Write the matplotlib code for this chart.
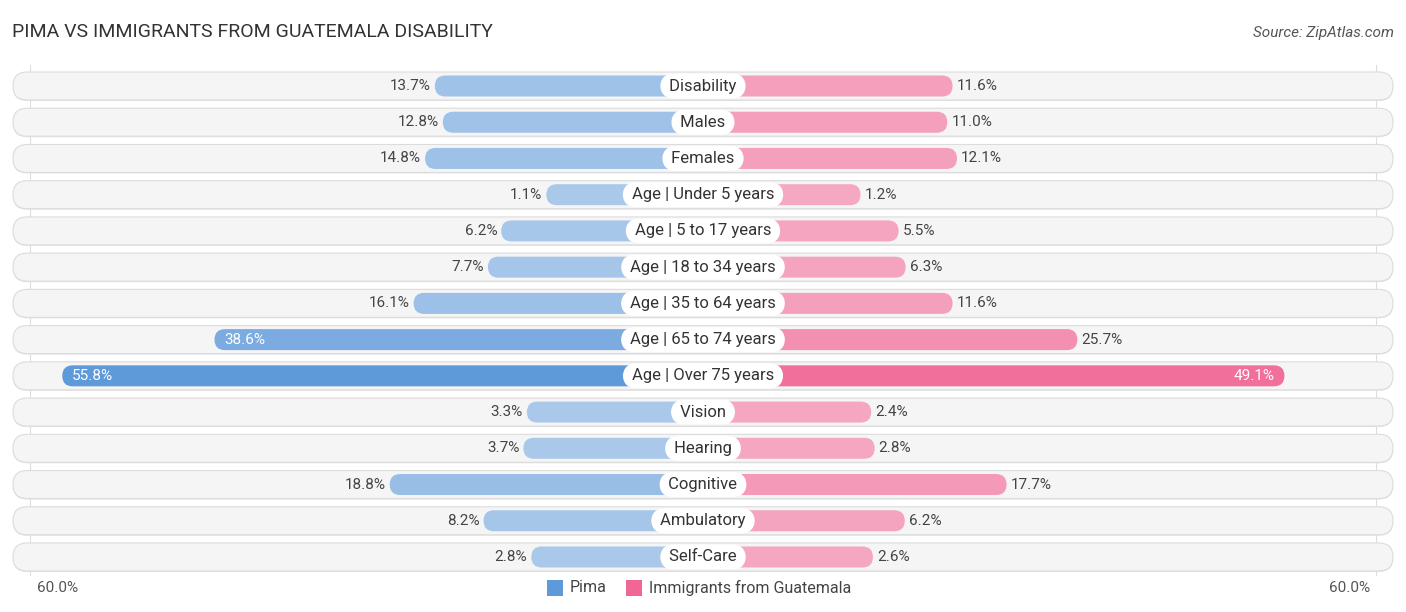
import matplotlib.pyplot as plt
from matplotlib.patches import FancyBboxPatch
import numpy as np

plt.rcParams['font.family'] = ['Roboto', 'DejaVu Sans']

categories = ["Disability", "Males", "Females", "Age | Under 5 years", "Age | 5 to 17 years",
              "Age | 18 to 34 years", "Age | 35 to 64 years", "Age | 65 to 74 years",
              "Age | Over 75 years", "Vision", "Hearing", "Cognitive", "Ambulatory", "Self-Care"]
pima = [13.7, 12.8, 14.8, 1.1, 6.2, 7.7, 16.1, 38.6, 55.8, 3.3, 3.7, 18.8, 8.2, 2.8]
guatemala = [11.6, 11.0, 12.1, 1.2, 5.5, 6.3, 11.6, 25.7, 49.1, 2.4, 2.8, 17.7, 6.2, 2.6]
series_names = ["Pima", "Immigrants from Guatemala"]
axis_max_label = "60.0%"

W, H = 1406, 612
PX = 8.85          # pixels per percent
OFFSET = 16.6      # bars start behind the centre label
HALF = 703 / PX

fig = plt.figure(figsize=(W / 100, H / 100), dpi=100)
ax = fig.add_axes([0, 0, 1, 1])
ax.set_xlim(-HALF, HALF)
ax.set_ylim(H, 0)
ax.axis('off')

blue_light, blue_dark = np.array([0.67, 0.79, 0.92]), np.array([0.37, 0.60, 0.85])
pink_light, pink_dark = np.array([0.96, 0.66, 0.76]), np.array([0.94, 0.40, 0.58])
vmax = max(max(pima), max(guatemala))


def shade(lo, hi, v):
    t = (v / vmax) ** 1.3
    return tuple(lo + (hi - lo) * t)


def rbox(x0, x1, yc, h, **kw):
    p = FancyBboxPatch((x0, yc - h / 2), x1 - x0, h,
                       boxstyle="round,pad=0,rounding_size=%f" % (h / 2 / PX),
                       mutation_aspect=PX, **kw)
    ax.add_patch(p)
    return p


y0, step = 86, 36.23
bg_half = 690 / PX

# faint guide lines at the 60% marks
for sx in (-1, 1):
    xg = sx * 673 / PX
    ax.plot([xg, xg], [65, 575], color='#dddddd', lw=0.8, zorder=0)

for i, cat in enumerate(categories):
    yc = y0 + i * step
    rbox(-bg_half, bg_half, yc + 1, 28, facecolor='#e4e4e4', edgecolor='none', zorder=1)
    rbox(-bg_half, bg_half, yc, 28, facecolor='#f5f5f5', edgecolor='#dcdcdc', lw=0.8, zorder=1)

    lv, rv = pima[i], guatemala[i]
    lx = -(OFFSET + lv)
    rx = OFFSET + rv
    rbox(lx, 0, yc, 21, facecolor=shade(blue_light, blue_dark, lv), edgecolor='none', zorder=2)
    rbox(0, rx, yc, 21, facecolor=shade(pink_light, pink_dark, rv), edgecolor='none', zorder=2)

    if lv > 30:
        ax.text(lx + 10 / PX, yc, f"{lv:.1f}%", ha='left', va='center', fontsize=11,
                color='white', zorder=4)
    else:
        ax.text(lx - 4 / PX, yc, f"{lv:.1f}%", ha='right', va='center', fontsize=11,
                color='#444444', zorder=4)
    if rv > 30:
        ax.text(rx - 10 / PX, yc, f"{rv:.1f}%", ha='right', va='center', fontsize=11,
                color='white', zorder=4)
    else:
        ax.text(rx + 4 / PX, yc, f"{rv:.1f}%", ha='left', va='center', fontsize=11,
                color='#444444', zorder=4)

    t = ax.text(0, yc, " " + cat + " ", ha='center', va='center', fontsize=12,
                color='#333333', zorder=5)
    t.set_bbox(dict(boxstyle='round,pad=0.3,rounding_size=0.85', facecolor='white',
                    edgecolor='none'))

ax.text(-HALF + 12 / PX, 32, "PIMA VS IMMIGRANTS FROM GUATEMALA DISABILITY", ha='left',
        va='center', fontsize=14, color='#333333')
ax.text(HALF - 12 / PX, 33, "Source: ZipAtlas.com", ha='right', va='center', fontsize=11,
        color='#555555', style='italic')

ax.text(-HALF + 37 / PX, 588, axis_max_label, ha='left', va='center', fontsize=11, color='#555555')
ax.text(HALF - 36 / PX, 588, axis_max_label, ha='right', va='center', fontsize=11, color='#555555')

# legend
leg_items = [(547, series_names[0], blue_dark), (626, series_names[1], pink_dark)]
for xpix, name, col in leg_items:
    xl = (xpix - 703) / PX
    ax.add_patch(plt.Rectangle((xl, 580), 16 / PX, 16, facecolor=tuple(col), edgecolor='none'))
    ax.text(xl + 23 / PX, 588, name, ha='left', va='center', fontsize=11.5, color='#444444')

fig.savefig('out.png', dpi=100)
